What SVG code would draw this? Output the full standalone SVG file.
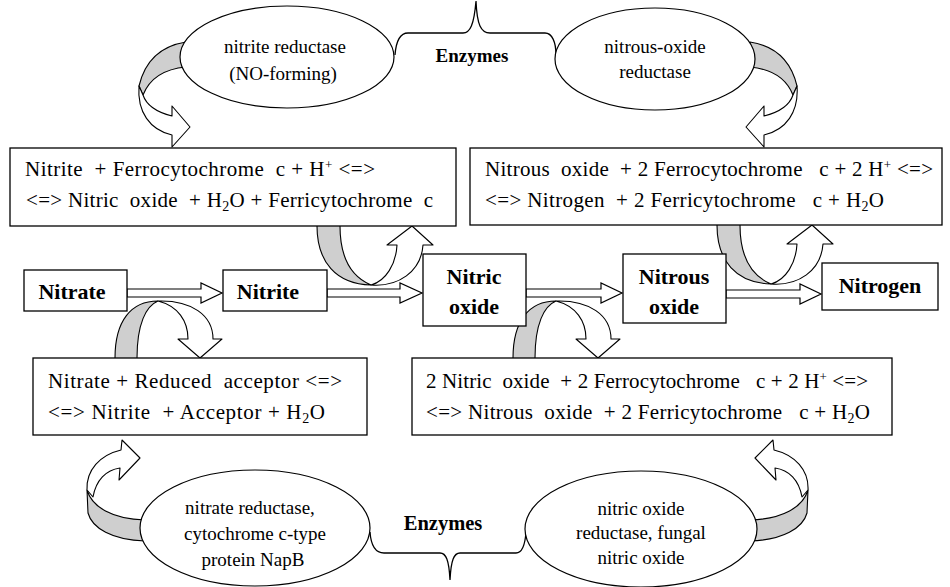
<svg xmlns="http://www.w3.org/2000/svg" width="950" height="587" viewBox="0 0 950 587" font-family="'Liberation Serif', 'Tinos', 'Times New Roman', 'DejaVu Serif', serif">
<style>
.box{fill:#fff;stroke:#000;stroke-width:1.3}
.ell{fill:#fff;stroke:#000;stroke-width:1.2}
.t{font-family:'Liberation Serif','Tinos','Times New Roman','DejaVu Serif',serif;fill:#000}
.rx{font-size:21px}
.en{font-size:19px;text-anchor:middle}
.sp{font-size:22px;font-weight:bold;text-anchor:middle}
.ez{font-weight:bold;text-anchor:middle}
.sup{font-size:13px}
.sub{font-size:14px}
.gr{fill:#cfcfcf;stroke:#000;stroke-width:1.1;stroke-linejoin:round}
.wh{fill:#fff;stroke:#000;stroke-width:1.1;stroke-linejoin:round}
.ha{fill:#fff;stroke:#000;stroke-width:1.2;stroke-linejoin:miter}
.br{fill:none;stroke:#000;stroke-width:1.3}
</style>
<defs>
<g id="curlA">
<path class="gr" d="M186,42 Q148,48 139,86 L143,95 Q153,70 186,67 Z"/>
<path class="wh" d="M139,86 C137,112 150,130 172,135 L172,147 L190,127 L172,106 L172,116 C156,112 146,104 143,95 Z"/>
</g>
<g id="curlC">
<path class="gr" d="M317,222 L317,226 C317,262 336,284 371,285 C352,277 340,258 340,226 L340,222 Z"/>
<path class="wh" d="M371,285 C398,287 421,272 423,245 L433,245 L412,226 L387,245 L397,245 C396,264 386,281 371,285 Z"/>
</g>
<g id="curlE">
<path class="gr" d="M115,362 L115,358 C115,321 131,301 158,301 C146,306 137,324 137,358 L137,362 Z"/>
<path class="wh" d="M158,301 C191,300 213,315 213,339 L222,339 L200,358 L178,339 L188,339 C188,321 178,306 158,301 Z"/>
</g>
<g id="curlG">
<path class="gr" d="M87,490 C92,507 112,519 145,520 L145,541 C112,540 92,528 88,513 Z"/>
<path class="wh" d="M87,490 C86,470 100,455 121,450 L122,440 L140,458 L119,480 L120,468 C106,470 96,480 93,497 Z"/>
</g>
</defs>
<rect width="950" height="587" fill="#fff"/>

<g id="connectors">
<polygon class="ha" points="127,289 201,289 201,283 222,293 201,303 201,297 127,297"/>
<polygon class="ha" points="327,289 400,289 400,283 422,293 400,303 400,297 327,297"/>
<polygon class="ha" points="526,289 601,289 601,283 622,293 601,303 601,297 526,297"/>
<polygon class="ha" points="726,290 800,290 800,284 821,294 800,304 800,298 726,298"/>
<use href="#curlA"/>
<use href="#curlA" transform="matrix(-1 0 0 1 936 0)"/>
<use href="#curlC"/>
<use href="#curlC" transform="translate(400,-1)"/>
<use href="#curlE"/>
<use href="#curlE" transform="translate(398,0)"/>
<use href="#curlG"/>
<use href="#curlG" transform="matrix(-1 0 0 1 895 0)"/>
<path class="br" d="M395,55 C396,42 399,33 408,33 L463,33 C470,33 474,25 476,1 C477,25 481,33 490,33 L545,33 C552,33 556,42 556,55"/>
<path class="br" d="M370,532 C371,546 375,553 384,553 L440,553 C446,553 449,560 450,580 C451,560 454,553 460,553 L516,553 C522,553 525,546 526,532"/>
</g>

<g id="enzymes-top-label"><text class="t ez" x="472" y="62" font-size="19">Enzymes</text></g>
<g id="enzymes-bottom-label"><text class="t ez" x="443" y="530" font-size="20.5">Enzymes</text></g>

<g id="enz-nitrite-reductase">
<ellipse class="ell" cx="287" cy="57" rx="107" ry="51"/>
<text class="t en" x="285" y="53">nitrite reductase</text>
<text class="t en" x="283" y="80">(NO-forming)</text>
</g>
<g id="enz-nitrous-oxide-reductase">
<ellipse class="ell" cx="655" cy="59" rx="100" ry="51"/>
<text class="t en" x="655" y="53">nitrous-oxide</text>
<text class="t en" x="655" y="78">reductase</text>
</g>
<g id="enz-nitrate-reductase">
<ellipse class="ell" cx="255" cy="528" rx="115" ry="58"/>
<text class="t en" x="250" y="514">nitrate reductase,</text>
<text class="t en" x="255" y="540">cytochrome c-type</text>
<text class="t en" x="253" y="566">protein NapB</text>
</g>
<g id="enz-nitric-oxide-reductase">
<ellipse class="ell" cx="641" cy="529" rx="116" ry="58"/>
<text class="t en" x="641" y="515">nitric oxide</text>
<text class="t en" x="641" y="539">reductase, fungal</text>
<text class="t en" x="641" y="564">nitric oxide</text>
</g>

<g id="rx-nitrite">
<rect class="box" x="10" y="148" width="446" height="78"/>
<text class="t rx" x="25" y="176" textLength="350" lengthAdjust="spacing" xml:space="preserve">Nitrite  + Ferrocytochrome  c + H<tspan class="sup" dy="-7">+</tspan><tspan dy="7"> &lt;=&gt;</tspan></text>
<text class="t rx" x="26" y="207" textLength="407" lengthAdjust="spacing" xml:space="preserve">&lt;=&gt; Nitric  oxide  + H<tspan class="sub" dy="4">2</tspan><tspan dy="-4">O + Ferricytochrome  c</tspan></text>
</g>
<g id="rx-nitrous">
<rect class="box" x="470" y="148" width="472" height="77"/>
<text class="t rx" x="485" y="176" textLength="448" lengthAdjust="spacing" xml:space="preserve">Nitrous  oxide  + 2 Ferrocytochrome   c + 2 H<tspan class="sup" dy="-7">+</tspan><tspan dy="7"> &lt;=&gt;</tspan></text>
<text class="t rx" x="485" y="207" textLength="399" lengthAdjust="spacing" xml:space="preserve">&lt;=&gt; Nitrogen  + 2 Ferricytochrome   c + H<tspan class="sub" dy="4">2</tspan><tspan dy="-4">O</tspan></text>
</g>
<g id="rx-nitrate">
<rect class="box" x="33" y="358" width="334" height="77"/>
<text class="t rx" x="48" y="388" textLength="294" lengthAdjust="spacing" xml:space="preserve">Nitrate + Reduced  acceptor &lt;=&gt;</text>
<text class="t rx" x="48" y="419" textLength="277" lengthAdjust="spacing" xml:space="preserve">&lt;=&gt; Nitrite  + Acceptor + H<tspan class="sub" dy="4">2</tspan><tspan dy="-4">O</tspan></text>
</g>
<g id="rx-nitric">
<rect class="box" x="412" y="358" width="480" height="77"/>
<text class="t rx" x="426" y="388" textLength="442" lengthAdjust="spacing" xml:space="preserve">2 Nitric  oxide  + 2 Ferrocytochrome   c + 2 H<tspan class="sup" dy="-7">+</tspan><tspan dy="7"> &lt;=&gt;</tspan></text>
<text class="t rx" x="426" y="419" textLength="444" lengthAdjust="spacing" xml:space="preserve">&lt;=&gt; Nitrous  oxide  + 2 Ferricytochrome   c + H<tspan class="sub" dy="4">2</tspan><tspan dy="-4">O</tspan></text>
</g>

<g id="nitrate">
<rect class="box" x="24" y="270" width="103" height="41"/>
<text class="t sp" x="72" y="299">Nitrate</text>
</g>
<g id="nitrite">
<rect class="box" x="223" y="270" width="104" height="41"/>
<text class="t sp" x="268" y="299">Nitrite</text>
</g>
<g id="nitric-oxide">
<rect class="box" x="423" y="254" width="103" height="72"/>
<text class="t sp" x="474" y="284">Nitric</text>
<text class="t sp" x="474" y="314">oxide</text>
</g>
<g id="nitrous-oxide">
<rect class="box" x="623" y="254" width="103" height="69"/>
<text class="t sp" x="674" y="284">Nitrous</text>
<text class="t sp" x="674" y="314">oxide</text>
</g>
<g id="nitrogen">
<rect class="box" x="822" y="263" width="116" height="47"/>
<text class="t sp" x="880" y="293">Nitrogen</text>
</g>
</svg>
